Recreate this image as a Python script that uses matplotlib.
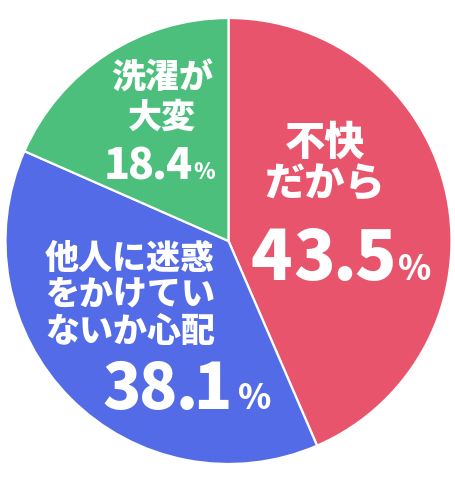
import matplotlib
matplotlib.use('Agg')
import matplotlib.pyplot as plt
from matplotlib.font_manager import FontProperties
from matplotlib.textpath import TextPath

plt.rcParams['font.family'] = ['Noto Sans CJK JP', 'DejaVu Sans']

labels = ['不快\nだから', '他人に迷惑\nをかけてい\nないか心配', '洗濯が\n大変']
values = [43.5, 38.1, 18.4]
colors = ['#E8546C', '#536BE6', '#4CBF7C']

# label layout in pixels: (center x, first line center y, line step, size)
label_pos = [(325, 143, 42, 29), (130, 258, 36.5, 24.5), (162, 78, 39, 24.5)]
# number: (left x, baseline y, digit height px, % height px, gap, % gap)
num_pos = [(252, 280, 51, 26, 5, 7),
           (104, 409, 47, 26, 5, 11),
           (107, 179, 32, 17, 3, 2)]

W, H = 455, 500
CX, CY, R = 228.5, 241, 223
PX = 100 / 72  # pixels per point

fig = plt.figure(figsize=(W / 100, H / 100), dpi=100)
ax = fig.add_axes([0, 0, 1, 1])

ax.pie(values, colors=colors, startangle=90, counterclock=False, radius=1,
       wedgeprops=dict(edgecolor='white', linewidth=1.6))

ax.set_aspect('auto')
ax.set_xlim((0 - CX) / R, (W - CX) / R)
ax.set_ylim((CY - H) / R, CY / R)
ax.axis('off')

fp = FontProperties(family='Noto Sans CJK JP', weight='heavy')


def px(x, y):
    return (x - CX) / R, (CY - y) / R


def ink(ch, size):
    e = TextPath((0, 0), ch, size=size, prop=fp).get_extents()
    return e.x0 * PX, e.x1 * PX, e.height * PX


def size_for(ch, h):
    return h / ink(ch, 1)[2]


def tight_text(s, x, y, size, gap):
    # glyph by glyph, so the digits sit close like in the original
    for ch in s:
        x0, x1, _ = ink(ch, size)
        ax.text(*px(x - x0, y), ch, ha='left', va='baseline', fontsize=size,
                fontproperties=fp, color='white')
        x += x1 - x0 + gap
    return x - gap


for lab, (x, y, step, size) in zip(labels, label_pos):
    for i, line in enumerate(lab.split('\n')):
        ax.text(*px(x, y + i * step), line, ha='center', va='center',
                fontsize=size, fontweight='heavy', color='white')

for v, (x, y, h, ph, gap, pgap) in zip(values, num_pos):
    x = tight_text('{:.1f}'.format(v), x, y, size_for('4', h), gap)
    tight_text('%', x + pgap, y, size_for('%', ph), 0)

fig.savefig('out.png', dpi=100)
